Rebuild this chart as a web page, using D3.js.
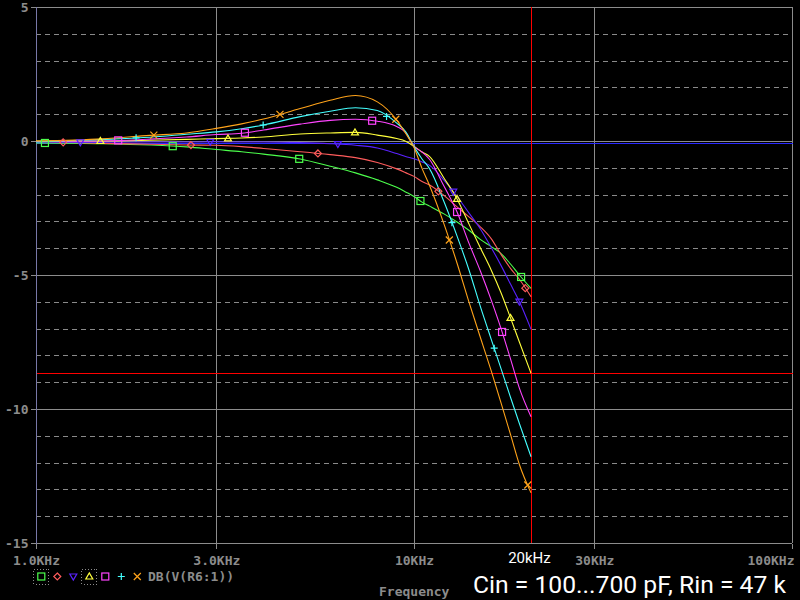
<!DOCTYPE html>
<html>
<head>
<meta charset="utf-8">
<script src="https://cdn.jsdelivr.net/npm/d3@7"></script>
<style>
html,body{margin:0;padding:0;background:#000;}
svg{display:block;}
</style>
</head>
<body>
<svg id="chart" width="800" height="600"></svg>
<script>
// ---- data ----
const freqKHz = [1, 1.5, 2, 2.5, 3, 3.5, 4, 5, 6, 7, 8, 9, 9.5, 10, 10.5, 11, 12, 13, 14, 15, 16, 17, 18, 19, 20.4];
const seriesNames = ["C1", "C2", "C3", "C4", "C5", "C6", "C7"];
const dbGreen   = [-0.07,-0.10,-0.15,-0.22,-0.32,-0.40,-0.49,-0.67,-0.94,-1.19,-1.45,-1.73,-1.90,-2.07,-2.28,-2.43,-2.72,-3.02,-3.34,-3.68,-3.94,-4.20,-4.59,-5.00,-5.50];
const dbRed     = [-0.02,-0.09,-0.12,-0.15,-0.16,-0.21,-0.28,-0.40,-0.51,-0.62,-0.80,-1.04,-1.18,-1.32,-1.51,-1.64,-2.03,-2.46,-2.84,-3.21,-3.64,-4.24,-4.75,-5.16,-5.81];
const dbBlue    = [-0.04,-0.05,-0.04,-0.04,-0.03,-0.04,-0.04,-0.06,-0.10,-0.16,-0.26,-0.47,-0.58,-0.66,-0.78,-0.91,-1.46,-2.07,-2.70,-3.29,-3.97,-4.65,-5.34,-5.99,-7.03];
const dbYellow  = [0.00,0.00,0.03,0.06,0.09,0.11,0.15,0.26,0.30,0.32,0.22,0.09,-0.01,-0.20,-0.41,-0.58,-1.38,-2.16,-3.12,-4.00,-4.81,-5.67,-6.60,-7.50,-8.67];
const dbMagenta = [-0.02,0.00,0.07,0.15,0.24,0.29,0.41,0.63,0.77,0.81,0.74,0.54,0.32,-0.20,-0.41,-0.69,-1.68,-2.65,-3.84,-4.87,-5.93,-7.01,-8.13,-9.22,-10.29];
const dbCyan    = [-0.04,0.06,0.14,0.25,0.34,0.46,0.60,0.91,1.11,1.24,1.14,0.67,0.35,-0.21,-0.67,-1.04,-2.26,-3.55,-4.84,-6.20,-7.39,-8.50,-9.56,-10.54,-11.78];
const dbOrange  = [0.00,0.08,0.21,0.30,0.47,0.64,0.82,1.21,1.52,1.70,1.46,0.78,0.29,-0.24,-1.02,-1.67,-3.09,-4.56,-6.04,-7.35,-8.57,-9.78,-10.95,-12.07,-13.13];
// marker frequencies (kHz) per series
const mkGreen   = [1.056, 2.30, 4.97, 10.4, 19.2];
const mkRed     = [1.18, 2.57, 5.57, 11.6, 19.7];
const mkBlue    = [1.31, 2.89, 6.29, 12.7, 19.0];
const mkYellow  = [1.48, 3.22, 6.98, 13.0, 18.0];
const mkMagenta = [1.65, 3.57, 7.75, 13.0, 17.1];
const mkCyan    = [1.84, 3.99, 8.46, 12.6, 16.3];
const mkOrange  = [2.05, 4.42, 8.95, 12.4, 20.0];
// axis ticks
const xTickValues = [1, 3, 10, 30, 100];
const xTickLabels = ["1.0KHz", "3.0KHz", "10KHz", "30KHz", "100KHz"];
const yTickValues = [5, 0, -5, -10, -15];
const yTickLabels = ["5", "0", "-5", "-10", "-15"];
const yMinorTicks = [4,3,2,1,-1,-2,-3,-4,-6,-7,-8,-9,-11,-12,-13,-14];
// cursors
const cursorFreqKHz = 20.45;
const cursorDb = -8.67;
const cursor2Db = -0.06;
const legendLabel = "DB(V(R6:1))";
const cursorLabel = "20kHz";
const titleText = "Cin = 100...700 pF, Rin = 47 k";
const xAxisTitle = "Frequency";

// ---- styles ----
const colors = ["#4cff4c", "#ff5c5c", "#5a22ff", "#ffff3c", "#ff44ff", "#44ffff", "#ffa31a"];
const markerTypes = ["square", "diamond", "tridown", "triup", "square", "plus", "cross"];
const allDb = [dbGreen, dbRed, dbBlue, dbYellow, dbMagenta, dbCyan, dbOrange];
const allMk = [mkGreen, mkRed, mkBlue, mkYellow, mkMagenta, mkCyan, mkOrange];

const svg = d3.select("#chart");
svg.append("rect").attr("width", 800).attr("height", 600).attr("fill", "#000");

const L = 36, R = 792, T = 7, B = 543;
const x = d3.scaleLog().domain([1, 100]).range([L, R]);
const y = d3.scaleLinear().domain([-15, 5]).range([B, T]);

const grid = svg.append("g").attr("shape-rendering", "crispEdges");
// minor dashed horizontal grid
grid.selectAll("line.minor").data(yMinorTicks).enter().append("line")
  .attr("x1", L).attr("x2", R)
  .attr("y1", d => Math.round(y(d)) + 0.5).attr("y2", d => Math.round(y(d)) + 0.5)
  .attr("stroke", "#8a8a8a").attr("stroke-width", 1).attr("stroke-dasharray", "5,4");
// major horizontal lines
grid.selectAll("line.hmaj").data(yTickValues).enter().append("line")
  .attr("x1", L).attr("x2", R)
  .attr("y1", d => Math.round(y(d)) + 0.5).attr("y2", d => Math.round(y(d)) + 0.5)
  .attr("stroke", "#8c8c8c").attr("stroke-width", 1);
// major vertical lines
grid.selectAll("line.vmaj").data(xTickValues.slice(1)).enter().append("line")
  .attr("x1", d => Math.round(x(d)) + 0.5).attr("x2", d => Math.round(x(d)) + 0.5)
  .attr("y1", T).attr("y2", B)
  .attr("stroke", "#8c8c8c").attr("stroke-width", 1);

// axes
const fmtX = d => xTickLabels[xTickValues.indexOf(d)];
const fmtY = d => yTickLabels[yTickValues.indexOf(d)];
const xAxis = svg.append("g").attr("transform", `translate(0,${B + 0.5})`)
  .call(d3.axisBottom(x).tickValues(xTickValues).tickFormat(fmtX).tickSize(5).tickPadding(7));
const yAxis = svg.append("g").attr("transform", `translate(${L + 0.5},0)`)
  .call(d3.axisLeft(y).tickValues(yTickValues).tickFormat(fmtY).tickSize(6).tickPadding(2));
[xAxis, yAxis].forEach(a => {
  a.select(".domain").remove();
  a.selectAll(".tick line").attr("stroke", "#8c8c8c").attr("shape-rendering", "crispEdges");
  a.selectAll("text").attr("fill", "#8c8c8c")
    .style("font-family", "'DejaVu Sans Mono', monospace").style("font-size", "13px").style("font-weight", "bold");
});
xAxis.selectAll(".tick text").filter(d => d === 100).attr("text-anchor", "end").attr("dx", "2");
yAxis.selectAll(".tick text").attr("dy", "0.36em");
// left axis line (bluish)
svg.append("rect").attr("x", L).attr("y", T).attr("width", 1).attr("height", B - T + 1)
  .attr("fill", "#7878a8");

// cursors (1px)
const cg = svg.append("g");
cg.append("rect").attr("x", L + 1).attr("width", R - L)
  .attr("y", Math.round(y(cursor2Db))).attr("height", 1)
  .attr("fill", "#2828ff");
cg.append("rect").attr("x", L + 1).attr("width", R - L)
  .attr("y", Math.round(y(cursorDb))).attr("height", 1)
  .attr("fill", "#ff0000");
cg.append("rect").attr("x", Math.round(x(cursorFreqKHz))).attr("width", 1)
  .attr("y", T).attr("height", B - T)
  .attr("fill", "#ff0000");

// curves
const line = d3.line().x(d => x(d[0])).y(d => y(d[1])).curve(d3.curveMonotoneX);
const plot = svg.append("g");
allDb.forEach((vals, i) => {
  const pts = freqKHz.map((f, j) => [f, vals[j]]);
  plot.append("path").datum(pts).attr("d", line)
    .attr("fill", "none").attr("stroke", colors[i]).attr("stroke-width", 1.1);
});

// interpolate a curve at freq (log-x)
function interp(vals, f) {
  const lf = Math.log10(f);
  for (let j = 0; j < freqKHz.length - 1; j++) {
    const a = Math.log10(freqKHz[j]), b = Math.log10(freqKHz[j + 1]);
    if (lf >= a && lf <= b) {
      const t = (lf - a) / (b - a);
      return vals[j] + t * (vals[j + 1] - vals[j]);
    }
  }
  return vals[vals.length - 1];
}

function drawMarker(g, type, cx, cy, color) {
  const s = 3.5;
  if (type === "square") {
    g.append("rect").attr("x", cx - s).attr("y", cy - s).attr("width", 2 * s).attr("height", 2 * s)
      .attr("fill", "none").attr("stroke", color).attr("stroke-width", 1.2);
  } else if (type === "diamond") {
    g.append("path").attr("d", `M${cx},${cy - s}L${cx + s},${cy}L${cx},${cy + s}L${cx - s},${cy}Z`)
      .attr("fill", "none").attr("stroke", color).attr("stroke-width", 1.2);
  } else if (type === "tridown") {
    g.append("path").attr("d", `M${cx - s},${cy - s + 1}L${cx + s},${cy - s + 1}L${cx},${cy + s}Z`)
      .attr("fill", "none").attr("stroke", color).attr("stroke-width", 1.2);
  } else if (type === "triup") {
    g.append("path").attr("d", `M${cx - s},${cy + s - 1}L${cx + s},${cy + s - 1}L${cx},${cy - s}Z`)
      .attr("fill", "none").attr("stroke", color).attr("stroke-width", 1.2);
  } else if (type === "plus") {
    g.append("path").attr("d", `M${cx - s},${cy}L${cx + s},${cy}M${cx},${cy - s}L${cx},${cy + s}`)
      .attr("stroke", color).attr("stroke-width", 1.2);
  } else if (type === "cross") {
    g.append("path").attr("d", `M${cx - s},${cy - s}L${cx + s},${cy + s}M${cx + s},${cy - s}L${cx - s},${cy + s}`)
      .attr("stroke", color).attr("stroke-width", 1.2);
  }
}

const mg = svg.append("g");
allMk.forEach((mk, i) => {
  mk.forEach(f => drawMarker(mg, markerTypes[i], x(f), y(interp(allDb[i], f)), colors[i]));
});

// cursor label
svg.append("text").attr("x", x(cursorFreqKHz) - 2).attr("y", 563)
  .attr("text-anchor", "middle").attr("fill", "#ffffff")
  .style("font-family", "Roboto, 'DejaVu Sans', sans-serif").style("font-size", "15px")
  .text(cursorLabel);

// x axis title
svg.append("text").attr("x", 379).attr("y", 596).attr("fill", "#8c8c8c")
  .style("font-family", "'DejaVu Sans Mono', monospace").style("font-size", "13px").style("font-weight", "bold")
  .text(xAxisTitle);

// legend
const lg = svg.append("g");
const legX0 = 41.3, legDx = 16, legY = 576.5;
colors.forEach((c, i) => drawMarker(lg, markerTypes[i], legX0 + i * legDx, legY, c));
[0, 3].forEach(i => {
  lg.append("rect").attr("x", legX0 + i * legDx - 7.5).attr("y", legY - 7.5).attr("width", 15).attr("height", 15)
    .attr("fill", "none").attr("stroke", "#8c8c8c").attr("stroke-dasharray", "1,2").attr("shape-rendering", "crispEdges");
});
lg.append("text").attr("x", 148).attr("y", 581).attr("fill", "#8c8c8c")
  .style("font-family", "'DejaVu Sans Mono', monospace").style("font-size", "13px").style("font-weight", "bold")
  .text(legendLabel);

// title
svg.append("text").attr("x", 473).attr("y", 593).attr("fill", "#ffffff")
  .attr("textLength", 313).attr("lengthAdjust", "spacingAndGlyphs")
  .style("font-family", "Roboto, 'DejaVu Sans', sans-serif").style("font-size", "24px")
  .text(titleText);
</script>
</body>
</html>
